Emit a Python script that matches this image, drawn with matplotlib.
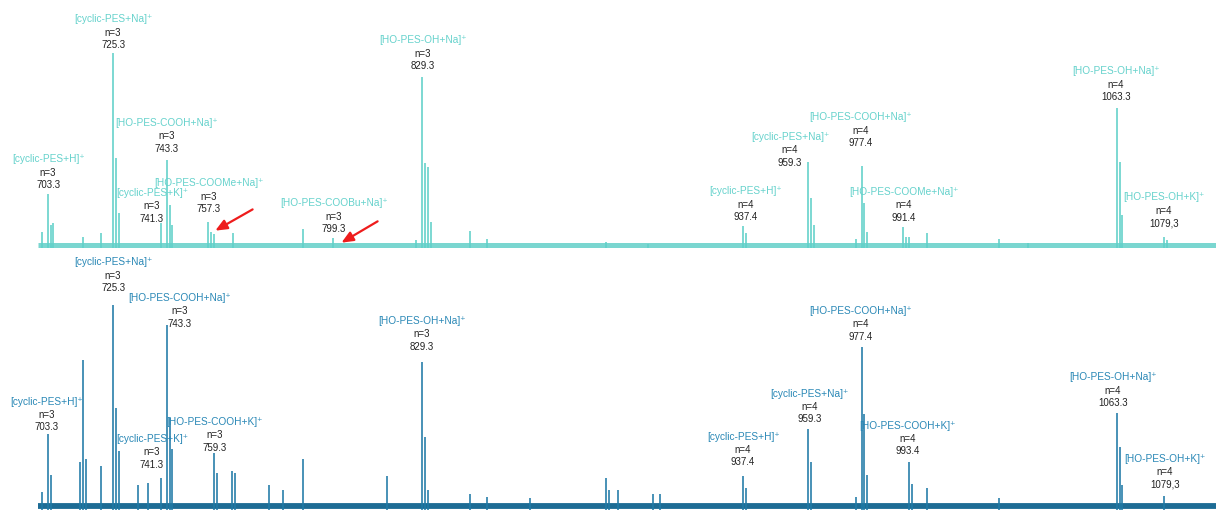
import matplotlib
matplotlib.use('Agg')
import matplotlib.pyplot as plt

plt.rcParams['font.family'] = ['Liberation Sans', 'DejaVu Sans']

# m/z window of both spectra
mz_start, mz_end = 700.0, 1096.8

# ---- top spectrum (peak m/z, relative intensity) ----
top_mz = [701.3, 703.3, 704.4, 705.0, 715.2, 721.2, 725.3, 726.3, 727.3,
          741.3, 743.3, 744.3, 745.3, 757.3, 758.3, 759.3, 765.7, 789.3,
          799.4, 827.3, 829.3, 830.3, 831.3, 832.3, 845.5, 851.2, 891.3,
          905.5, 937.4, 938.4, 959.3, 960.3, 961.3, 975.5, 977.4, 978.4,
          979.4, 991.4, 992.4, 993.4, 999.4, 1023.7, 1033.4, 1063.3,
          1064.3, 1065.3, 1079.3, 1080.3]
top_int = [8.0, 27.7, 11.8, 12.8, 5.6, 7.7, 100, 46.0, 18.0,
           12.8, 45.0, 22.0, 11.8, 13.3, 8.0, 7.0, 7.7, 9.7,
           5.1, 4.0, 87.7, 43.6, 41.5, 13.3, 8.7, 4.6, 3.0,
           2.0, 11.3, 7.7, 44.0, 25.6, 11.8, 4.6, 42.0, 23.0,
           8.2, 10.8, 5.6, 5.6, 7.7, 4.6, 2.6, 71.8,
           44.0, 17.0, 5.6, 4.0]

# ---- bottom spectrum ----
bot_mz = [701.3, 703.3, 704.3, 714.1, 715.2, 716.2, 721.2, 725.3, 726.3,
          727.3, 733.7, 737.0, 741.3, 743.3, 744.3, 745.3, 759.3, 760.3,
          765.3, 766.3, 777.8, 782.5, 789.3, 817.5, 829.3, 830.3, 831.3,
          845.5, 851.2, 865.7, 891.3, 892.3, 895.3, 907.1, 909.5, 937.4,
          938.4, 959.3, 960.3, 975.4, 977.4, 978.4, 979.4, 993.4, 994.4,
          999.4, 1023.7, 1063.3, 1064.3, 1065.3, 1079.3]
bot_int = [8.9, 37.0, 17.2, 23.6, 73.4, 25.0, 21.7, 100, 50.0,
           28.6, 12.3, 13.3, 15.8, 90.6, 45.0, 29.6, 27.6, 18.0,
           19.0, 18.0, 12.3, 9.9, 25.0, 16.7, 72.4, 35.5, 10.0,
           7.9, 6.4, 5.9, 15.8, 9.9, 9.9, 7.9, 7.9, 16.7,
           10.8, 39.4, 23.6, 6.4, 79.8, 46.8, 17.2, 23.2, 12.8,
           10.8, 5.9, 47.3, 31.0, 12.3, 6.9]

# ---- annotations: ion, n, mass text, label centre m/z, mass-line height ----
top_ions = ['[cyclic-PES+Na]⁺', '[cyclic-PES+H]⁺', '[HO-PES-COOH+Na]⁺',
            '[cyclic-PES+K]⁺', '[HO-PES-COOMe+Na]⁺', '[HO-PES-COOBu+Na]⁺',
            '[HO-PES-OH+Na]⁺', '[cyclic-PES+H]⁺', '[cyclic-PES+Na]⁺',
            '[HO-PES-COOH+Na]⁺', '[HO-PES-COOMe+Na]⁺', '[HO-PES-OH+Na]⁺',
            '[HO-PES-OH+K]⁺']
top_n = ['n=3'] * 7 + ['n=4'] * 6
top_mass = ['725.3', '703.3', '743.3', '741.3', '757.3', '799.3', '829.3',
            '937.4', '959.3', '977.4', '991.4', '1063.3', '1079,3']
top_lx = [725.3, 703.4, 743.4, 738.4, 757.6, 799.7, 829.7,
          938.5, 953.3, 977.2, 991.7, 1063.1, 1079.3]
top_ly = [104.1, 32.3, 50.8, 14.9, 20.0, 9.7, 93.3,
          15.9, 43.6, 53.8, 15.4, 77.4, 12.8]

bot_ions = ['[cyclic-PES+Na]⁺', '[HO-PES-COOH+Na]⁺', '[cyclic-PES+H]⁺',
            '[cyclic-PES+K]⁺', '[HO-PES-COOH+K]⁺', '[HO-PES-OH+Na]⁺',
            '[cyclic-PES+H]⁺', '[cyclic-PES+Na]⁺', '[HO-PES-COOH+Na]⁺',
            '[HO-PES-COOH+K]⁺', '[HO-PES-OH+Na]⁺', '[HO-PES-OH+K]⁺']
bot_n = ['n=3'] * 6 + ['n=4'] * 6
bot_mass = ['725.3', '743.3', '703.3', '741.3', '759.3', '829.3',
            '937.4', '959.3', '977.4', '993.4', '1063.3', '1079,3']
bot_lx = [725.3, 747.8, 703.0, 738.4, 759.6, 829.3,
          937.5, 960.0, 977.2, 993.0, 1062.1, 1079.6]
bot_ly = [108.4, 91.1, 40.4, 22.2, 30.5, 79.8,
          23.2, 44.3, 84.7, 28.6, 52.2, 12.3]

# red arrows in the top spectrum: (tail m/z, tail int, tip m/z, tip int)
arrows = [(773.1, 20.5, 758.9, 8.2), (815.2, 14.4, 801.4, 2.0)]


def draw_spectrum(ax, mz, inten, line_col, base_col, base_y, base_lw):
    # noisy baseline is shown as a band
    ax.plot([mz_start, mz_end], [base_y, base_y], color=base_col, lw=base_lw,
            solid_capstyle='butt', zorder=1)
    ax.vlines(mz, 0, inten, color=line_col, lw=1.15, zorder=2)


def label_peaks(ax, ions, ns, masses, lx, ly, ion_col):
    for ion, n, m, x, y in zip(ions, ns, masses, lx, ly):
        ax.annotate(m, (x, y), ha='center', va='center', fontsize=7,
                    color='#222222')
        ax.annotate(n, (x, y), xytext=(0, 9), textcoords='offset points',
                    ha='center', va='center', fontsize=7, color='#222222')
        ax.annotate(ion, (x, y), xytext=(0, 18.5), textcoords='offset points',
                    ha='center', va='center', fontsize=7.3, color=ion_col)


fig = plt.figure(figsize=(12.16, 5.12), dpi=100)
ax1 = fig.add_axes([0, 260 / 512, 1, 252 / 512])
ax2 = fig.add_axes([0, 0, 1, 256 / 512])

draw_spectrum(ax1, top_mz, top_int, '#5fd0c9', '#7ad6d0', 1.6, 3.6)
label_peaks(ax1, top_ions, top_n, top_mass, top_lx, top_ly, '#66d2cc')
for x0, y0, x1, y1 in arrows:
    ax1.annotate('', xy=(x1, y1), xytext=(x0, y0),
                 arrowprops=dict(arrowstyle='-|>,head_length=0.7,head_width=0.3',
                                 color='#ee1c1c', lw=1.6))

draw_spectrum(ax2, bot_mz, bot_int, '#1f7aa6', '#1d6c95', 1.8, 4.2)
label_peaks(ax2, bot_ions, bot_n, bot_mass, bot_lx, bot_ly, '#2a88b6')

xlo = mz_start - 38 / 2.969
ax1.set_xlim(xlo, mz_end)
ax2.set_xlim(xlo, mz_end)
ax1.set_ylim(-2.05, 127.2)
ax2.set_ylim(-0.99, 124.1)
for ax in (ax1, ax2):
    ax.axis('off')

fig.savefig('out.png', dpi=100)
